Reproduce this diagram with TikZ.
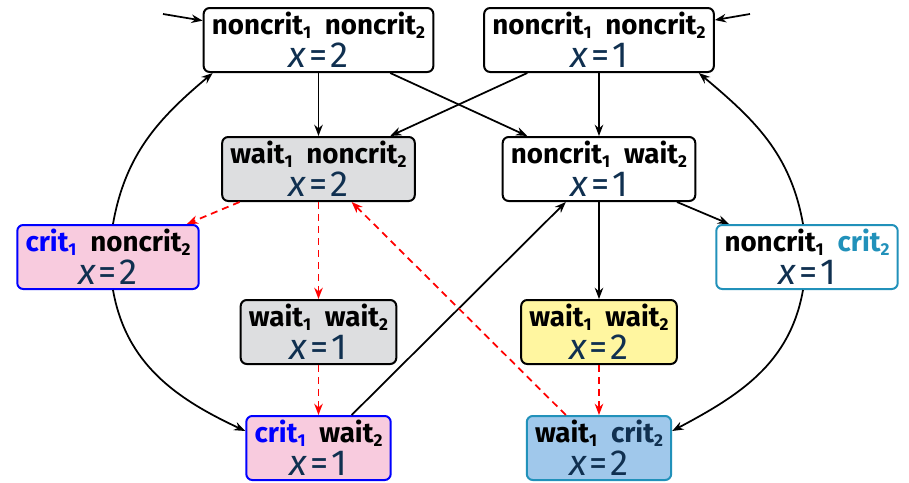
\documentclass[tikz,border=0pt]{standalone}
\usepackage{fontspec}
\setsansfont{Fira Sans}
\usetikzlibrary{arrows.meta}

\definecolor{xnavy}{RGB}{16,48,80}
\definecolor{critblue}{RGB}{0,0,255}
\definecolor{critteal}{RGB}{33,145,186}
\definecolor{waitgray}{RGB}{221,222,224}
\definecolor{critpink}{RGB}{248,203,222}
\definecolor{waityellow}{RGB}{255,246,160}
\definecolor{critsky}{RGB}{160,200,235}

\newcommand{\lc}[2]{#1\raisebox{-0.13em}{\fontsize{6.9}{7}\selectfont#2}}
\newcommand{\xv}[1]{{\fontsize{14.5}{13.2}\selectfont\mdseries\color{xnavy}\textit{x}\kern1.2pt=\kern1.2pt#1}}

\begin{document}
\begin{tikzpicture}[x=0.4pt,y=0.4pt,
  loc/.style={draw,rounded corners=2.4pt,line width=0.8pt,align=center,
    font=\sffamily\bfseries\fontsize{11.1}{13.2}\selectfont,
    inner xsep=3.3pt,inner ysep=1pt,minimum height=25.6pt},
  waitloc/.style={loc,fill=waitgray},
  oneloc/.style={loc,draw=critblue,fill=critpink},
  twoloc/.style={loc,draw=critteal},
  move/.style={-{Stealth[length=4.5pt,width=3.4pt]},line width=0.7pt},
  prio/.style={move,red,dash pattern=on 2.8pt off 2pt}]
\useasboundingbox (0,0) rectangle (909,482);

% states
\node[loc] (nn2) at (318.5,442) {\lc{noncrit}{1}\enspace\lc{noncrit}{2}\\\xv{2}};
\node[loc] (nn1) at (599,442) {\lc{noncrit}{1}\enspace\lc{noncrit}{2}\\\xv{1}};
\node[waitloc] (wn2) at (318.5,313) {\lc{wait}{1}\enspace\lc{noncrit}{2}\\\xv{2}};
\node[loc] (nw1) at (599,313) {\lc{noncrit}{1}\enspace\lc{wait}{2}\\\xv{1}};
\node[oneloc] (cn2) at (108,225) {\textcolor{critblue}{\lc{crit}{1}}\enspace\lc{noncrit}{2}\\\xv{2}};
\node[twoloc] (nc1) at (807,225) {\lc{noncrit}{1}\enspace\textcolor{critteal}{\lc{crit}{2}}\\\xv{1}};
\node[waitloc] (ww1) at (318.5,150) {\lc{wait}{1}\enspace\lc{wait}{2}\\\xv{1}};
\node[loc,fill=waityellow] (ww2) at (599,150) {\lc{wait}{1}\enspace\lc{wait}{2}\\\xv{2}};
\node[oneloc] (cw1) at (318.5,34) {\textcolor{critblue}{\lc{crit}{1}}\enspace\lc{wait}{2}\\\xv{1}};
\node[twoloc,fill=critsky] (wc2) at (599,34) {\lc{wait}{1}\enspace\textcolor{xnavy}{\lc{crit}{2}}\\\xv{2}};

% initial
\coordinate (initl) at (163,468);
\coordinate (initr) at (750,468);
\draw[move] (initl) -- (nn2);
\draw[move] (initr) -- (nn1);

% transitions
\draw[move] (nn2) -- (wn2);
\draw[move] (nn2) -- (nw1);
\draw[move] (nn1) -- (wn2);
\draw[move] (nn1) -- (nw1);
\draw[move] (nw1) -- (nc1);
\draw[move] (nw1) -- (ww2);
\draw[move] (cw1) -- (nw1);
\draw[move] ([xshift=2pt]cn2.north) to[out=80,in=220] ([xshift=4pt]nn2.south west);
\draw[move] ([xshift=2pt]cn2.south) to[out=-80,in=155] ([yshift=6.8pt]cw1.west);
\draw[move] ([xshift=-1.6pt]nc1.north) to[out=100,in=-40] ([xshift=-6.4pt]nn1.south east);
\draw[move] ([xshift=-1.6pt]nc1.south) to[out=-100,in=28] ([yshift=6.8pt]wc2.east);

% priority
\draw[prio] (wn2) -- (cn2);
\draw[prio] (wn2) -- (ww1);
\draw[prio] (ww1) -- (cw1);
\draw[prio] (ww2) -- (wc2);
\draw[prio] (wc2) -- (wn2);
\end{tikzpicture}
\end{document}
